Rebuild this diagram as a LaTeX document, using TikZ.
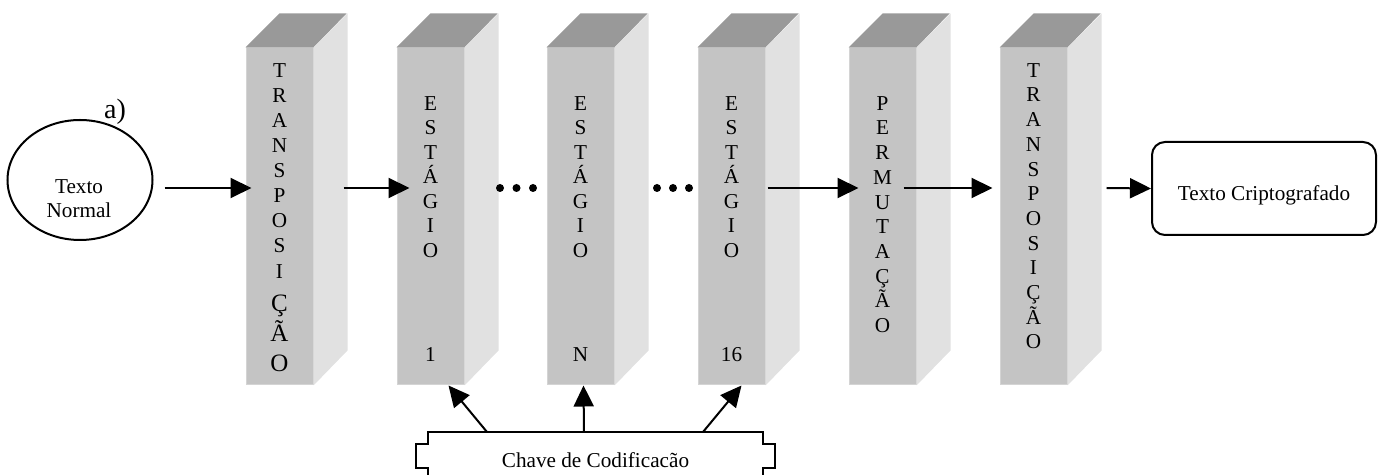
\documentclass[tikz,border=0pt]{standalone}
\usepackage{fontspec}
\setmainfont{Liberation Serif}
\usetikzlibrary{arrows.meta,shapes.geometric,calc}
\definecolor{frontc}{RGB}{196,196,196}
\definecolor{topc}{RGB}{153,153,153}
\definecolor{sidec}{RGB}{225,225,225}
\definecolor{edgec}{RGB}{212,212,212}
\begin{document}
\begin{tikzpicture}[x=0.5pt,y=-0.5pt,
  face/.style={draw=edgec, line width=0.5pt, fill=frontc, minimum width=33.5pt, minimum height=168.5pt, inner sep=0pt},
  arr/.style={-{Triangle[length=10.5pt,width=10pt]}, line width=1pt},
  lettxt/.style={align=center, inner sep=0pt, anchor=north},
  txt/.style={font=\fontsize{10.6}{12.5}\selectfont, inner sep=0pt},
  dot/.style={circle, fill=black, inner sep=0pt, minimum size=4pt},
]
\useasboundingbox (0,0) rectangle (1383,475);

% columns
\foreach \n/\x in {c1/246,c2/397,c3/547,c4/698,c5/849,c6/1000} {
  \node[face] (\n) at (\x+33.5,216.5) {};
  \fill[topc] (\n.north west) -- ++(34,-34) -- ++(67,0) -- (\n.north east) -- cycle;
  \fill[sidec] (\n.north east) -- ++(34,-34) -- ++(0,337) -- (\n.south east) -- cycle;
}

% column texts
\node[lettxt, font=\fontsize{10.6}{12.55}\selectfont] (t1a) at (279.5,63) {T\\R\\A\\N\\S\\P\\O\\S\\I};
\node[lettxt, font=\fontsize{12.5}{15}\selectfont] (t1b) at (279.5,295) {Ç\\Ã\\O};
\node[lettxt, font=\fontsize{10.6}{12.25}\selectfont] (t2) at (430.5,96) {E\\S\\T\\Á\\G\\I\\O};
\node[lettxt, font=\fontsize{10.6}{12.25}\selectfont] (t3) at (580.5,96) {E\\S\\T\\Á\\G\\I\\O};
\node[lettxt, font=\fontsize{10.6}{12.25}\selectfont] (t4) at (731.5,96) {E\\S\\T\\Á\\G\\I\\O};
\node[txt] (n2) at (430.5,355) {1};
\node[txt] (n3) at (580.5,355) {N};
\node[txt] (n4) at (731.5,355) {16};
\node[lettxt, font=\fontsize{10.6}{12.35}\selectfont] (t5) at (882.5,96) {P\\E\\R\\M\\U\\T\\A\\Ç\\Ã\\O};
\node[lettxt, font=\fontsize{10.6}{12.35}\selectfont] (t6) at (1033.5,63) {T\\R\\A\\N\\S\\P\\O\\S\\I\\Ç\\Ã\\O};

% input ellipse
\node[ellipse, draw, line width=1pt, minimum width=72.5pt, minimum height=60pt, inner sep=0pt] (ell) at (80,180) {};
\node[txt, align=center, font=\fontsize{10.6}{12}\selectfont] (tn) at (79,199) {Texto\\Normal};
\node[inner sep=0pt, font=\fontsize{14}{16}\selectfont] (lbla) at (115,112) {a)};

% output box
\node[draw, line width=1pt, rounded corners=6.5pt, minimum width=112pt, minimum height=46.5pt, inner sep=0pt] (out) at (1264,188.5) {};
\node[txt] (outt) at (1264,195) {Texto Criptografado};

% dots
\foreach \i/\x in {1/500,2/516.5,3/533,4/657,5/673,6/689} {
  \node[dot] (d\i) at (\x,188) {};
}

% arrows
\draw[arr] ($(ell.east)+(11,8)$) -- ($(c1.west)+(6,-28.5)$);
\draw[arr] ($(c1.east)+(30,-28.5)$) -- ($(c2.west)+(13,-28.5)$);
\draw[arr] ($(c4.east)+(2,-28.5)$) -- ($(c5.west)+(10,-28.5)$);
\draw[arr] ($(c5.east)+(-13,-28.5)$) -- ($(c6.west)+(-7,-28.5)$);
\draw[arr] ($(c6.east)+(39,-28.5)$) -- (out.west);

% key plaque
\coordinate (ktl) at (428,432);
\coordinate (ktr) at (763,432);
\node[txt] (key) at (595.5,460) {Chave de Codificacão};
\draw[line width=1pt] ($(ktl)+(0,48)$) -- ($(ktl)+(0,36)$) -- ($(ktl)+(-12,36)$) -- ($(ktl)+(-12,12)$) -- ($(ktl)+(0,12)$) -- (ktl) -- (ktr) -- ($(ktr)+(0,12)$) -- ($(ktr)+(12,12)$) -- ($(ktr)+(12,36)$) -- ($(ktr)+(0,36)$) -- ($(ktr)+(0,48)$);
\draw[arr] ($(ktl)+(59,0)$) -- ($(c2.south)+(18,0)$);
\draw[arr] ($(ktl)+(156,0)$) -- ($(c3.south)+(3,0)$);
\draw[arr] ($(ktl)+(275,0)$) -- ($(c4.south)+(10,0)$);
\end{tikzpicture}
\end{document}
